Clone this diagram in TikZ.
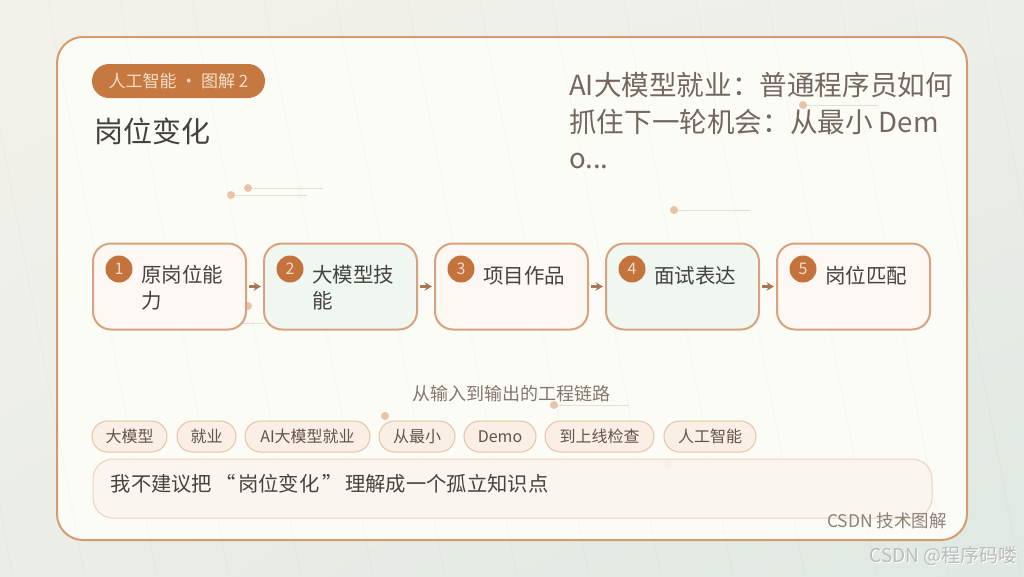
\documentclass[tikz,border=0pt]{standalone}
\usepackage{fontspec}
\setmainfont{Noto Sans CJK SC}
\usetikzlibrary{arrows.meta,shadings}
\definecolor{bgA}{HTML}{F3F1EA}
\definecolor{bgB}{HTML}{ECEFE8}
\definecolor{bgC}{HTML}{EAEEE7}
\definecolor{bgD}{HTML}{DFE9E1}
\definecolor{cardfill}{HTML}{FCFCF7}
\definecolor{cardline}{HTML}{D39B71}
\definecolor{pillc}{HTML}{C67841}
\definecolor{pilltext}{HTML}{F5DEC9}
\definecolor{boxline}{HTML}{D8A27E}
\definecolor{warm}{HTML}{FDF8F4}
\definecolor{mint}{HTML}{EFF7F0}
\definecolor{circ}{HTML}{C4733D}
\definecolor{circtext}{HTML}{F4DCC8}
\definecolor{arrowc}{HTML}{A87759}
\definecolor{tagfill}{HTML}{FAEEE5}
\definecolor{tagline}{HTML}{E8C3A4}
\definecolor{tagtext}{HTML}{62524A}
\definecolor{notefill}{HTML}{FAF4EE}
\definecolor{noteline}{HTML}{EDD2BA}
\definecolor{dotc}{HTML}{E5C4A8}
\definecolor{decoline}{HTML}{E9DDD2}
\definecolor{titlec}{HTML}{45413D}
\definecolor{rtitle}{HTML}{74685E}
\definecolor{subc}{HTML}{85766B}
\definecolor{footc}{HTML}{8E8077}
\definecolor{lblc}{HTML}{46423F}
\definecolor{wmark}{HTML}{BBBBBB}
\newcommand\cs{\rule[-0.12em]{0pt}{1em}}
\tikzset{
  stepbox/.style={draw=boxline, line width=2pt, rounded corners=18pt, minimum width=153pt, minimum height=86pt, inner sep=0pt},
  numc/.style={circle, fill=circ, minimum size=27pt, inner sep=0pt, text=circtext, font=\fontsize{16}{16}\selectfont},
  lbl/.style={inner sep=0pt, align=left, text=lblc, font=\fontsize{20.5}{26}\selectfont},
  flow/.style={draw=arrowc, line width=2.2pt, -{Stealth[length=7.5pt,width=8.5pt]}},
  tagbox/.style={draw=tagline, fill=tagfill, line width=1pt, rounded corners=15.5pt, minimum height=31pt, inner sep=0pt, text=tagtext, font=\fontsize{16}{16}\selectfont},
  decodot/.style={fill=dotc},
  decoln/.style={draw=decoline, line width=1pt},
  faint/.style={draw=black, draw opacity=0.025, line width=0.8pt}
}
\begin{document}
\begin{tikzpicture}[x=1pt,y=-1pt]
\useasboundingbox (0,0) rectangle (1024,576);
% background
\shade[upper left=bgA, upper right=bgB, lower left=bgC, lower right=bgD] (0,0) rectangle (1024,576);
% card
\draw[draw=cardline, line width=2pt, fill=cardfill, rounded corners=26pt] (57,37) rectangle (967,540);
% faint diagonal lines
\foreach \k in {-2,...,14} {
  \draw[faint] ({-24.5+72*\k},0) -- ({-24.5+72*\k+109.4},576);
}
% decorative dots and lines
\draw[decoln] (248,188) -- (323,188);
\fill[decodot] (248,188) circle (4pt);
\draw[decoln] (231,195) -- (307,195);
\fill[decodot] (231,195) circle (4pt);
\draw[decoln] (803,105) -- (878,105);
\fill[decodot] (803,105) circle (4pt);
\draw[decoln] (674,210) -- (750,210);
\fill[decodot] (674,210) circle (4pt);
\draw[decoln] (230,323) -- (265,323);
\fill[decodot] (248,306) circle (4pt);
\fill[decodot] (385,416) circle (4pt);
\draw[decoln] (554,405) -- (629,405);
\fill[decodot] (554,405) circle (4pt);
\fill[decodot, opacity=0.6] (668,464) circle (4pt);
% header
\node[fill=pillc, rounded corners=17pt, minimum width=173pt, minimum height=34pt, inner sep=0pt, text=pilltext, font=\fontsize{17}{17}\selectfont] (pill) at (178.5,81) {\cs 人工智能 · 图解 2};
\node[anchor=west, inner sep=0pt, text=titlec, font=\fontsize{29}{29}\selectfont] (title) at (94,131) {\cs 岗位变化};
\node[anchor=north west, inner sep=0pt, align=left, text=rtitle, font=\fontsize{27.6}{36.5}\selectfont] (rtitle) at (569,71.2) {\rule{0pt}{0.88em}AI大模型就业：普通程序员如何\\抓住下一轮机会：从最小 Dem\\o...};
% step boxes
\node[stepbox, fill=warm] (b1) at (169.5,286.5) {};
\node[stepbox, fill=mint] (b2) at (340.5,286.5) {};
\node[stepbox, fill=warm] (b3) at (511.5,286.5) {};
\node[stepbox, fill=mint] (b4) at (682.5,286.5) {};
\node[stepbox, fill=warm] (b5) at (853.5,286.5) {};
\node[numc] (n1) at (119,269) {1};
\node[numc] (n2) at (290,269) {2};
\node[numc] (n3) at (461,269) {3};
\node[numc] (n4) at (632,269) {4};
\node[numc] (n5) at (803,269) {5};
\node[lbl, anchor=north west] (l1) at (141,264.75) {\rule{0pt}{0.88em}原岗位能\\力};
\node[lbl, anchor=north west] (l2) at (312,264.75) {\rule{0pt}{0.88em}大模型技\\能};
\node[lbl, anchor=west] (l3) at (483,275.5) {\cs 项目作品};
\node[lbl, anchor=west] (l4) at (654,275.5) {\cs 面试表达};
\node[lbl, anchor=west] (l5) at (825,275.5) {\cs 岗位匹配};
\draw[flow] ([xshift=2pt]b1.east) -- ([xshift=-2pt]b2.west);
\draw[flow] ([xshift=2pt]b2.east) -- ([xshift=-2pt]b3.west);
\draw[flow] ([xshift=2pt]b3.east) -- ([xshift=-2pt]b4.west);
\draw[flow] ([xshift=2pt]b4.east) -- ([xshift=-2pt]b5.west);
% subtitle
\node[inner sep=0pt, text=subc, font=\fontsize{18}{18}\selectfont] (chain) at (511.5,394) {\cs 从输入到输出的工程链路};
% tags
\node[tagbox, minimum width=75pt] (t1) at (129.5,436.5) {\cs 大模型};
\node[tagbox, minimum width=59pt] (t2) at (206.5,436.5) {\cs 就业};
\node[tagbox, minimum width=125pt] (t3) at (307.5,436.5) {\cs AI大模型就业};
\node[tagbox, minimum width=76pt] (t4) at (417,436.5) {\cs 从最小};
\node[tagbox, minimum width=72pt] (t5) at (500,436.5) {\cs Demo};
\node[tagbox, minimum width=109pt] (t6) at (599.5,436.5) {\cs 到上线检查};
\node[tagbox, minimum width=92pt] (t7) at (710,436.5) {\cs 人工智能};
% note
\node[draw=noteline, fill=notefill, fill opacity=0.85, line width=1pt, rounded corners=20pt, minimum width=839pt, minimum height=59pt, inner sep=0pt] (note) at (512.5,488.5) {};
\node[anchor=west, inner sep=0pt, text=lblc, font=\fontsize{20.3}{20.3}\selectfont] (notetext) at (110.5,483.5) {\cs 我不建议把\makebox[1.28em][c]{“}岗位变化\makebox[1.28em][c]{”}理解成一个孤立知识点};
% footer
\node[anchor=east, inner sep=0pt, text=footc, font=\fontsize{17.5}{17.5}\selectfont] (foot) at (947,521) {\cs CSDN 技术图解};
\node[anchor=east, inner sep=0pt, text=white, font=\fontsize{19}{19}\selectfont] (wm0) at (1019,557) {\cs CSDN @程序码喽};
\node[anchor=east, inner sep=0pt, text=wmark, font=\fontsize{19}{19}\selectfont] (wm) at (1018,556) {\cs CSDN @程序码喽};
\end{tikzpicture}
\end{document}
